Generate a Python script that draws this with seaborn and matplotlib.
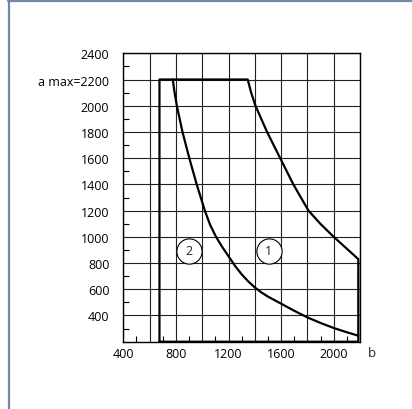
import matplotlib
matplotlib.use("Agg")
import matplotlib.pyplot as plt
from matplotlib.lines import Line2D
from matplotlib.ticker import MultipleLocator, FixedLocator, FuncFormatter
import seaborn as sns
import pandas as pd

# Outline of the working range (curve 1): left edge, a max plateau, limit curve, right edge
zone1_b = [675, 675, 1346, 1372, 1405, 1493, 1593, 1693, 1808, 1900, 2000, 2187, 2187, 675]
zone1_a = [200, 2200, 2200, 2100, 2000, 1800, 1600, 1400, 1200, 1098, 1000, 830, 200, 200]

# Limit curve 2
curve2_b = [776, 790, 807, 850, 902, 958, 1020, 1060, 1105, 1150, 1200, 1250, 1300, 1350,
            1400, 1450, 1500, 1600, 1700, 1799, 1900, 2002, 2100, 2187]
curve2_a = [2200, 2100, 2000, 1800, 1600, 1400, 1200, 1092, 1000, 926, 852, 778, 714, 660,
            614, 576, 544, 490, 436, 386, 343, 304, 272, 246]

# Circled zone markers
marker_b = [900, 1505]
marker_a = [895, 895]
marker_text = ["2", "1"]

x_ticks = [400, 800, 1200, 1600, 2000]
y_ticks = [400, 600, 800, 1000, 1200, 1400, 1600, 1800, 2000, 2200, 2400]
y_labels = ["400", "600", "800", "1000", "1200", "1400", "1600", "1800", "2000", "a max=2200", "2400"]

sns.set_theme(style="white")
plt.rcParams["font.family"] = ["Open Sans", "DejaVu Sans"]

fig = plt.figure(figsize=(4.12, 4.10), dpi=100)
ax = fig.add_axes([0.2993, 0.1641, 0.8738 - 0.2993, 0.8676 - 0.1641])

zone1 = pd.DataFrame({"b": zone1_b, "a": zone1_a})
curve2 = pd.DataFrame({"b": curve2_b, "a": curve2_a})
sns.lineplot(data=zone1, x="b", y="a", sort=False, estimator=None,
             color="black", lw=1.6, ax=ax, zorder=5)
sns.lineplot(data=curve2, x="b", y="a", sort=False, estimator=None,
             color="black", lw=1.6, ax=ax, zorder=5)
for ln in ax.lines:
    ln.set_solid_joinstyle("round")

markers = pd.DataFrame({"b": marker_b, "a": marker_a})
sns.scatterplot(data=markers, x="b", y="a", s=330, facecolor="white",
                edgecolor="black", linewidth=0.8, ax=ax, zorder=6)
for b, a, t in zip(marker_b, marker_a, marker_text):
    ax.text(b, a, t, ha="center", va="center", fontsize=9, zorder=7)

ax.set_xlim(400, 2200)
ax.set_ylim(200, 2400)

# grid every 200, labels only where printed
ax.xaxis.set_major_locator(MultipleLocator(200))
ax.xaxis.set_major_formatter(
    FuncFormatter(lambda v, p: f"{int(v)}" if int(round(v)) in x_ticks else ""))
ax.yaxis.set_major_locator(FixedLocator(y_ticks))
ax.set_yticklabels(y_labels)
ax.xaxis.set_minor_locator(MultipleLocator(100))
ax.yaxis.set_minor_locator(MultipleLocator(100))

ax.grid(True, which="major", color="#222222", lw=0.8)
ax.tick_params(which="major", length=0, labelsize=9, pad=10, colors="black")
ax.tick_params(axis="x", which="major", pad=4)
ax.tick_params(which="minor", direction="in", length=4, width=0.8, color="black",
               bottom=True, left=True)
for s in ax.spines.values():
    s.set_color("black")
    s.set_linewidth(1.0)

ax.set_xlabel("b", fontsize=9.5)
ax.set_ylabel("")
ax.xaxis.set_label_coords(1.05, -0.036)
ax.xaxis.label.set_verticalalignment("center")

# figure frame (top and left edges)
frame_col = "#7088aa"
fig.add_artist(Line2D([8.5 / 412, 8.5 / 412], [0, 1 - 2 / 410], transform=fig.transFigure,
                      color=frame_col, lw=1.6))
fig.add_artist(Line2D([8 / 412, 1], [1 - 2 / 410, 1 - 2 / 410], transform=fig.transFigure,
                      color=frame_col, lw=1.6))

fig.savefig("out.png", dpi=100)
